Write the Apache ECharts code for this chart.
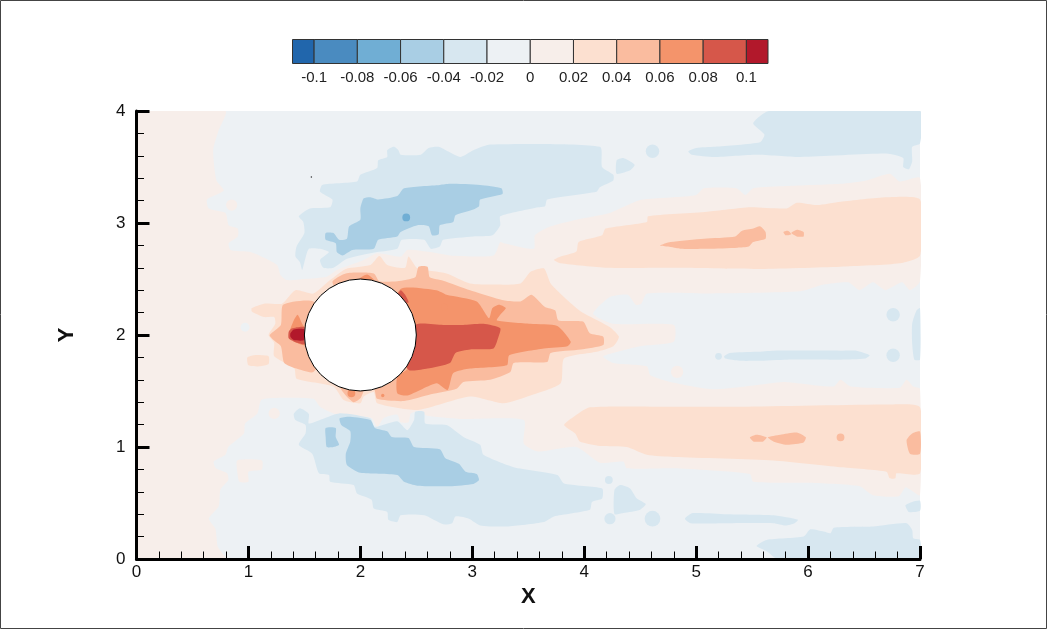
<!DOCTYPE html>
<html><head><meta charset="utf-8">
<style>html,body{margin:0;padding:0;background:#fff}#c{width:1047px;height:629px}</style>
<script src="https://cdn.jsdelivr.net/npm/echarts@6/dist/echarts.min.js"></script>
</head><body><div id="c"></div>
<script>
// legend
const bandEdges=[-0.11,-0.1,-0.08,-0.06,-0.04,-0.02,0,0.02,0.04,0.06,0.08,0.1,0.11];
const bandColors=['#2166AC','#4A8BC0','#70AED4','#A9CEE4','#D7E7F0','#EDF1F4','#F7EEEA','#FCE0D0','#FABC9F','#F4946B','#D6574A','#B2182B'];
const legendLabels=[-0.1,-0.08,-0.06,-0.04,-0.02,0,0.02,0.04,0.06,0.08,0.1];
const cylinder={x:2,y:2,r:0.5};
const specks=[[1.5625,3.41]];

// contour outlines in data units (X, Y); level = value in the band's middle
const domain=[[0,0],[7,0],[7,4],[0,4]];
const p01Main=[[0,4],[.795,4],[.735,3.83],[.685,3.65],[.714,3.38],[.78,3.29],[.63,3.21],[.646,3.13],[.795,3.09],[.824,2.98],[.905,2.95],[.905,2.88],[.824,2.82],[.84,2.76],[1.02,2.74],[1.256,2.625],[1.286,2.536],[1.345,2.49],[1.5,2.5],[1.7,2.52],[1.79,2.58],[2.03,2.67],[2.15,2.73],[2.36,2.70],[2.42,2.76],[2.625,2.74],[2.80,2.71],[3.19,2.71],[3.25,2.83],[3.28,2.82],[3.55,2.77],[3.56,2.89],[3.70,2.97],[3.93,3.03],[4.23,3.09],[4.5,3.205],[4.80,3.23],[5.0,3.25],[5.07,3.31],[5.36,3.31],[5.44,3.25],[5.51,3.31],[5.81,3.33],[6.29,3.35],[6.52,3.38],[6.73,3.44],[6.82,3.37],[7,3.40],[7,2.48],[6.91,2.40],[6.84,2.47],[6.69,2.40],[6.58,2.47],[6.46,2.40],[6.36,2.47],[6.14,2.45],[5.93,2.39],[5.10,2.37],[4.56,2.37],[4.51,2.28],[4.46,2.27],[4.39,2.36],[4.23,2.34],[4.08,2.19],[4.26,2.10],[4.80,2.09],[4.80,1.94],[4.50,1.90],[4.17,1.81],[4.26,1.75],[4.56,1.72],[4.59,1.64],[4.77,1.58],[5.16,1.515],[5.78,1.58],[5.90,1.57],[6.23,1.54],[6.29,1.60],[6.38,1.54],[6.82,1.53],[6.88,1.60],[6.94,1.54],[7,1.52],[7,.57],[6.91,.62],[6.87,.64],[6.81,.56],[6.58,.57],[6.46,.65],[5.99,.68],[5.51,.69],[5.48,.76],[4.80,.81],[4.38,.81],[4.35,.87],[4.14,.86],[3.93,1.0],[3.59,.96],[3.46,1.03],[3.46,1.24],[2.92,1.25],[2.60,1.28],[2.51,1.32],[2.45,1.30],[2.43,1.22],[2.36,1.22],[2.33,1.29],[2.21,1.26],[2.15,1.18],[2.10,1.26],[1.79,1.29],[1.64,1.36],[1.58,1.43],[1.12,1.425],[1.08,1.30],[.97,1.21],[.96,1.12],[.82,1.0],[.795,.93],[.69,.87],[.71,.81],[.81,.765],[.82,.705],[.75,.62],[.735,.47],[.646,.36],[.705,.27],[.726,.11],[.795,0],[0,0]];
const p01Patch=[[.90,.88],[1.12,.88],[1.12,.80],[1.0,.78],[1.0,.69],[.92,.69],[.90,.78]];
const n03Upper=[[1.45,3.06],[1.55,3.13],[1.73,3.14],[1.75,3.21],[1.64,3.28],[1.66,3.34],[1.97,3.37],[2.0,3.43],[2.15,3.49],[2.16,3.56],[2.24,3.59],[2.24,3.65],[2.30,3.68],[2.34,3.65],[2.36,3.61],[2.54,3.61],[2.61,3.67],[2.70,3.68],[2.89,3.59],[3.01,3.65],[3.16,3.70],[4.14,3.68],[4.16,3.50],[4.26,3.43],[4.26,3.38],[4.14,3.32],[4.11,3.28],[3.67,3.21],[3.65,3.15],[3.59,3.14],[3.25,3.06],[3.25,2.98],[3.18,2.89],[3.01,2.88],[2.74,2.85],[2.71,2.79],[2.63,2.77],[2.57,2.85],[2.37,2.85],[2.33,2.77],[2.15,2.74],[1.88,2.68],[1.76,2.60],[1.67,2.60],[1.64,2.67],[1.72,2.74],[1.64,2.77],[1.54,2.77],[1.50,2.65],[1.48,2.58],[1.46,2.65],[1.42,2.70],[1.43,2.79],[1.50,2.91],[1.49,3.01]];
const n03Lower=[[1.405,1.295],[1.46,1.345],[1.54,1.295],[1.54,1.21],[1.81,1.30],[2.09,1.255],[2.13,1.18],[2.33,1.23],[2.42,1.15],[2.48,1.24],[2.49,1.315],[2.57,1.315],[2.58,1.21],[2.77,1.196],[2.92,1.09],[3.07,1.02],[3.10,.93],[3.37,.82],[3.76,.75],[3.82,.675],[4.16,.63],[4.16,.54],[4.07,.51],[4.05,.44],[3.73,.38],[3.64,.33],[3.31,.29],[3.07,.30],[2.97,.36],[2.85,.38],[2.82,.32],[2.74,.31],[2.57,.39],[2.36,.39],[2.33,.33],[2.25,.35],[2.24,.42],[2.12,.45],[2.10,.53],[1.97,.585],[1.94,.66],[1.73,.69],[1.72,.75],[1.63,.765],[1.57,.94],[1.45,1.02],[1.51,1.12],[1.51,1.196],[1.42,1.24]];
const n03TopRight=[[4.93,3.64],[5.0,3.67],[5.17,3.68],[5.57,3.72],[5.61,3.79],[5.51,3.89],[5.65,4.0],[7,4.0],[7,3.71],[6.93,3.68],[6.93,3.55],[6.90,3.48],[6.85,3.50],[6.85,3.58],[6.70,3.62],[5.93,3.59],[5.54,3.61],[5.16,3.59],[4.96,3.61]];
const n03Wedge=[[4.29,3.56],[4.35,3.58],[4.45,3.52],[4.41,3.47],[4.29,3.44]];
const n03RightEdge=[[6.93,2.10],[6.97,2.22],[7,2.24],[7,1.78],[6.95,1.78],[6.93,1.925]];
const n03MidStreak=[[5.25,1.81],[5.30,1.84],[5.54,1.85],[5.69,1.86],[6.29,1.86],[6.43,1.86],[6.55,1.82],[6.51,1.79],[6.29,1.78],[5.81,1.78],[5.54,1.77],[5.39,1.77],[5.26,1.79]];
const n03Tri=[[4.27,.615],[4.32,.66],[4.41,.63],[4.47,.54],[4.55,.49],[4.50,.44],[4.35,.41],[4.27,.40]];
const n03LowStreak=[[4.90,.36],[4.97,.41],[5.27,.40],[5.69,.39],[5.91,.35],[5.88,.32],[5.80,.30],[5.69,.32],[5.27,.32],[4.95,.32]];
const n03EdgeLow=[[6.87,.48],[6.93,.51],[7,.52],[7,.43],[6.90,.42]];
const n03Bottom=[[5.54,.116],[5.63,.17],[5.96,.20],[6.02,.265],[6.14,.245],[6.20,.23],[6.23,.28],[6.58,.29],[6.88,.32],[6.93,.26],[6.94,.185],[7,.17],[7,0],[5.73,0],[5.63,.07]];
const n05Upper=[[1.69,2.91],[1.76,2.91],[1.81,2.85],[1.88,2.86],[1.90,2.97],[2.0,3.03],[2.0,3.13],[2.03,3.22],[2.09,3.23],[2.16,3.21],[2.33,3.24],[2.39,3.31],[2.71,3.34],[2.80,3.35],[3.07,3.34],[3.26,3.31],[3.27,3.26],[3.07,3.21],[3.06,3.15],[3.01,3.12],[2.85,3.07],[2.83,3.01],[2.71,2.98],[2.70,2.90],[2.64,2.89],[2.61,2.97],[2.51,2.98],[2.36,2.92],[2.33,2.88],[2.16,2.85],[2.12,2.77],[1.93,2.76],[1.84,2.71],[1.79,2.74],[1.78,2.82],[1.69,2.85]];
const n05Lower=[[1.815,1.256],[1.91,1.27],[2.09,1.24],[2.13,1.17],[2.24,1.14],[2.28,1.09],[2.43,1.08],[2.48,1.0],[2.71,.98],[2.76,.90],[2.88,.85],[2.94,.78],[3.04,.76],[3.06,.705],[3.01,.67],[2.80,.65],[2.51,.655],[2.39,.69],[2.33,.75],[2.0,.77],[1.88,.84],[1.87,.94],[1.91,1.05],[1.91,1.14],[1.83,1.196]];
const n05Small=[[1.69,1.17],[1.78,1.17],[1.78,1.09],[1.81,1.02],[1.76,1.0],[1.70,1.0],[1.69,1.09]];
const p03Upper=[[3.73,2.67],[3.79,2.70],[3.93,2.745],[3.95,2.83],[4.16,2.89],[4.19,2.95],[4.56,3.01],[4.57,3.06],[5.10,3.10],[5.48,3.14],[5.81,3.13],[5.90,3.18],[6.08,3.16],[6.29,3.19],[6.70,3.23],[7,3.21],[7,2.71],[6.82,2.64],[6.29,2.61],[5.54,2.59],[4.80,2.60],[4.20,2.60],[3.79,2.64]];
const p03Lower=[[3.82,1.196],[3.90,1.265],[4.05,1.354],[4.80,1.36],[5.39,1.36],[6.76,1.38],[7,1.354],[7,.765],[6.79,.765],[6.78,.72],[6.73,.72],[6.70,.78],[6.29,.82],[5.69,.88],[4.80,.91],[4.56,.93],[4.38,1.0],[4.14,1.01],[3.96,1.05],[3.92,1.12]];
const p03Centre=[[1.03,2.24],[1.14,2.28],[1.30,2.28],[1.42,2.40],[1.58,2.37],[1.73,2.49],[1.87,2.59],[2.09,2.625],[2.17,2.705],[2.24,2.625],[2.40,2.60],[2.43,2.70],[2.51,2.595],[2.77,2.55],[2.98,2.46],[3.19,2.45],[3.43,2.46],[3.52,2.565],[3.64,2.595],[3.70,2.46],[3.85,2.31],[3.97,2.21],[4.08,2.15],[4.23,2.07],[4.31,1.985],[4.26,1.90],[4.11,1.85],[3.82,1.79],[3.79,1.57],[3.52,1.46],[3.28,1.39],[2.98,1.45],[2.51,1.33],[2.15,1.39],[2.12,1.49],[2.03,1.45],[2.0,1.39],[1.85,1.42],[1.76,1.54],[1.43,1.61],[1.41,1.70],[1.23,1.81],[1.23,1.93],[1.18,2.0],[1.24,2.10],[1.23,2.16],[1.14,2.16],[1.03,2.21]];
const p03LeftIsle=[[.99,1.80],[1.05,1.82],[1.18,1.81],[1.18,1.74],[1.10,1.72],[1.0,1.73]];
const p05Left=[[1.19,2.0],[1.29,2.09],[1.31,2.27],[1.58,2.30],[1.8,2.0],[1.58,1.67],[1.43,1.70],[1.32,1.75],[1.29,1.90],[1.23,1.95]];
const p05Wake=[[1.75,2.47],[1.87,2.55],[2.12,2.55],[2.17,2.48],[2.33,2.48],[2.49,2.515],[2.52,2.61],[2.60,2.61],[2.62,2.515],[2.74,2.485],[2.98,2.40],[3.28,2.31],[3.43,2.30],[3.53,2.36],[3.65,2.25],[3.74,2.22],[3.77,2.13],[3.99,2.12],[4.05,2.015],[4.17,1.985],[4.17,1.91],[3.97,1.87],[3.70,1.84],[3.67,1.76],[3.37,1.75],[3.34,1.67],[3.16,1.60],[2.92,1.58],[2.86,1.52],[2.63,1.47],[2.39,1.41],[2.15,1.43],[2.13,1.50],[2.0,2.0]];
const p05Under=[[1.82,1.54],[1.87,1.46],[1.94,1.40],[2.0,1.435],[2.03,1.51],[2.0,1.7]];
const p05StreakA=[[4.68,2.80],[4.77,2.83],[5.07,2.86],[5.35,2.88],[5.41,2.93],[5.51,2.95],[5.57,2.97],[5.62,2.92],[5.62,2.86],[5.51,2.83],[5.47,2.79],[5.37,2.78],[5.10,2.77],[4.86,2.77],[4.75,2.79]];
const p05StreakB=[[5.78,2.92],[5.82,2.93],[5.85,2.90],[5.80,2.89]];
const p05StreakC=[[5.85,2.91],[5.90,2.94],[5.96,2.92],[5.96,2.88],[5.90,2.88]];
const p05StreakD=[[5.48,1.086],[5.54,1.11],[5.63,1.086],[5.60,1.05],[5.51,1.05]];
const p05StreakE=[[5.64,1.086],[5.75,1.11],[5.90,1.13],[5.98,1.086],[5.96,1.04],[5.81,1.02],[5.69,1.05]];
const p05Edge=[[7,1.137],[6.93,1.12],[6.88,1.06],[6.91,.94],[7,.94]];
const p07Wake=[[2.36,2.41],[2.68,2.40],[2.77,2.36],[3.04,2.30],[3.15,2.15],[3.18,2.24],[3.24,2.27],[3.30,2.24],[3.25,2.18],[3.22,2.13],[3.52,2.10],[3.76,2.08],[3.88,1.94],[3.85,1.90],[3.64,1.88],[3.33,1.82],[3.31,1.73],[2.98,1.70],[2.83,1.66],[2.78,1.51],[2.68,1.57],[2.42,1.46],[2.33,1.48],[2.33,1.63],[2.42,1.70],[2.2,2.0]];
const p07Top=[[1.99,2.50],[2.06,2.54],[2.12,2.49],[2.0,2.4]];
const p07Left=[[1.37,2.04],[1.41,2.14],[1.44,2.18],[1.48,2.10],[1.51,2.05],[1.51,1.91],[1.41,1.94],[1.37,1.99]];
const p09Wake=[[2.52,2.10],[2.74,2.09],[2.92,2.09],[3.10,2.10],[3.25,2.06],[3.23,1.97],[3.19,1.88],[2.98,1.87],[2.85,1.84],[2.80,1.75],[2.60,1.70],[2.43,1.69],[2.3,2.0]];
const p09Sliver=[[2.36,2.40],[2.40,2.36],[2.43,2.29],[2.3,2.3]];
const p09Left=[[1.36,2.03],[1.39,2.06],[1.50,2.07],[1.50,1.92],[1.41,1.94],[1.36,1.97]];
const p11Left=[[1.375,2.015],[1.405,2.05],[1.50,2.05],[1.50,1.955],[1.405,1.955],[1.375,1.985]];

// small round patches: [level, x, y, radius]
const patches=[[.01,.85,3.16,.05],[.01,1.23,1.30,.05],[.01,4.83,1.67,.055],[-.01,.97,2.07,.04],
[-.03,4.61,3.64,.06],[-.03,6.76,2.18,.06],[-.03,6.76,1.82,.06],[-.03,5.20,1.81,.03],[-.03,4.22,.705,.035],[-.03,4.23,.36,.05],[-.03,4.61,.36,.07],
[-.07,2.41,3.05,.035],[.05,6.29,1.086,.035],[.07,1.92,1.48,.035],[.07,2.2,1.46,.015],[.07,2.75,2.25,.03]];

// painter's order
const polygons=[[-.01,domain],[.01,p01Main],[.01,p01Patch],
[-.03,n03Upper],[-.03,n03Lower],[-.03,n03TopRight],[-.03,n03Wedge],[-.03,n03RightEdge],[-.03,n03MidStreak],[-.03,n03Tri],[-.03,n03LowStreak],[-.03,n03EdgeLow],[-.03,n03Bottom],
[-.05,n05Upper],[-.05,n05Lower],[-.05,n05Small],
[.03,p03Upper],[.03,p03Lower],[.03,p03Centre],[.03,p03LeftIsle],
[.05,p05Left],[.05,p05Wake],[.05,p05Under],[.05,p05StreakA],[.05,p05StreakB],[.05,p05StreakC],[.05,p05StreakD],[.05,p05StreakE],[.05,p05Edge],
[.07,p07Wake],[.07,p07Top],[.07,p07Left],[.09,p09Wake],[.09,p09Sliver],[.09,p09Left],[.105,p11Left]];

const FONT='"Liberation Sans",Arial,sans-serif';
function colorOf(v){for(let i=0;i<bandColors.length;i++){if(v>=bandEdges[i]&&v<bandEdges[i+1])return bandColors[i];}return bandColors[bandColors.length-1];}
const chart=echarts.init(document.getElementById('c'),null,{renderer:'canvas'});
chart.setOption({
 animation:false,backgroundColor:'#fff',
 graphic:[{type:'rect',silent:true,shape:{x:0.5,y:0.5,width:1046,height:628},style:{fill:'none',stroke:'#444',lineWidth:1},z:100}],
 grid:[{left:136.5,top:111,width:783.5,height:448},{left:292.5,top:39.5,width:475.5,height:24}],
 xAxis:[{type:'value',gridIndex:0,min:0,max:7,interval:1,z:10,name:'X',nameLocation:'middle',nameGap:29,
   nameTextStyle:{fontFamily:FONT,fontWeight:'bold',fontSize:22,color:'#111',verticalAlign:'middle'},
   axisLine:{onZero:false,lineStyle:{color:'#000',width:3}},
   axisTick:{inside:true,length:13,lineStyle:{color:'#000',width:3}},
   minorTick:{show:true,splitNumber:5,length:7.5,lineStyle:{color:'#000',width:1}},
   splitLine:{show:false},minorSplitLine:{show:false},
   axisLabel:{fontFamily:FONT,fontSize:17,color:'#111',margin:5,showMinLabel:true,showMaxLabel:true}},
  {type:'value',gridIndex:1,min:-0.11,max:0.11,axisLine:{show:false},axisTick:{show:false},splitLine:{show:false},
   axisLabel:{fontFamily:FONT,fontSize:15,color:'#222',margin:7,customValues:legendLabels}}],
 yAxis:[{type:'value',gridIndex:0,min:0,max:4,interval:1,z:10,name:'Y',nameLocation:'middle',nameGap:70,nameRotate:90,
   nameTextStyle:{fontFamily:FONT,fontWeight:'bold',fontSize:22,color:'#111',verticalAlign:'middle'},
   axisLine:{onZero:false,lineStyle:{color:'#000',width:3}},
   axisTick:{inside:true,length:13,lineStyle:{color:'#000',width:3}},
   minorTick:{show:true,splitNumber:5,length:7.5,lineStyle:{color:'#000',width:1}},
   splitLine:{show:false},minorSplitLine:{show:false},
   axisLabel:{fontFamily:FONT,fontSize:17,color:'#111',margin:11,showMinLabel:true,showMaxLabel:true}},
  {type:'value',gridIndex:1,min:0,max:1,show:false}],
 series:[
  {type:'custom',name:'contours',xAxisIndex:0,yAxisIndex:0,clip:true,silent:true,z:2,
   data:polygons.map((p,i)=>[p[1][0][0],p[1][0][1],i]),
   renderItem(params,api){const p=polygons[api.value(2)];
     return {type:'polygon',shape:{points:p[1].map(q=>api.coord(q)),smooth:p[1]===domain?0:0.2},style:{fill:colorOf(p[0])}};}},
  {type:'custom',name:'patches',xAxisIndex:0,yAxisIndex:0,clip:true,silent:true,z:3,
   data:patches.map(p=>[p[1],p[2],p[3]]),
   renderItem(params,api){const c=api.coord([api.value(0),api.value(1)]);
     return {type:'circle',shape:{cx:c[0],cy:c[1],r:api.size([api.value(2),0])[0]},style:{fill:colorOf(patches[params.dataIndex][0])}};}},
  {type:'custom',name:'cylinder',xAxisIndex:0,yAxisIndex:0,silent:true,z:5,
   data:[[cylinder.x,cylinder.y,cylinder.r]],
   renderItem(params,api){const c=api.coord([api.value(0),api.value(1)]);
     return {type:'circle',shape:{cx:c[0],cy:c[1],r:api.size([api.value(2),0])[0]},style:{fill:'#fff',stroke:'#000',lineWidth:1}};}},
  {type:'scatter',xAxisIndex:0,yAxisIndex:0,silent:true,z:6,symbolSize:1.5,itemStyle:{color:'#000'},data:specks},
  {type:'custom',name:'legend',xAxisIndex:1,yAxisIndex:1,silent:true,z:2,
   data:bandColors.map((c,i)=>[bandEdges[i],0,bandEdges[i+1],i]),
   renderItem(params,api){const a=api.coord([api.value(0),1]),b=api.coord([api.value(2),0]);
     return {type:'rect',shape:{x:a[0],y:a[1],width:b[0]-a[0],height:b[1]-a[1]},style:{fill:bandColors[api.value(3)],stroke:'#333',lineWidth:1}};}}
 ]
});
</script></body></html>
